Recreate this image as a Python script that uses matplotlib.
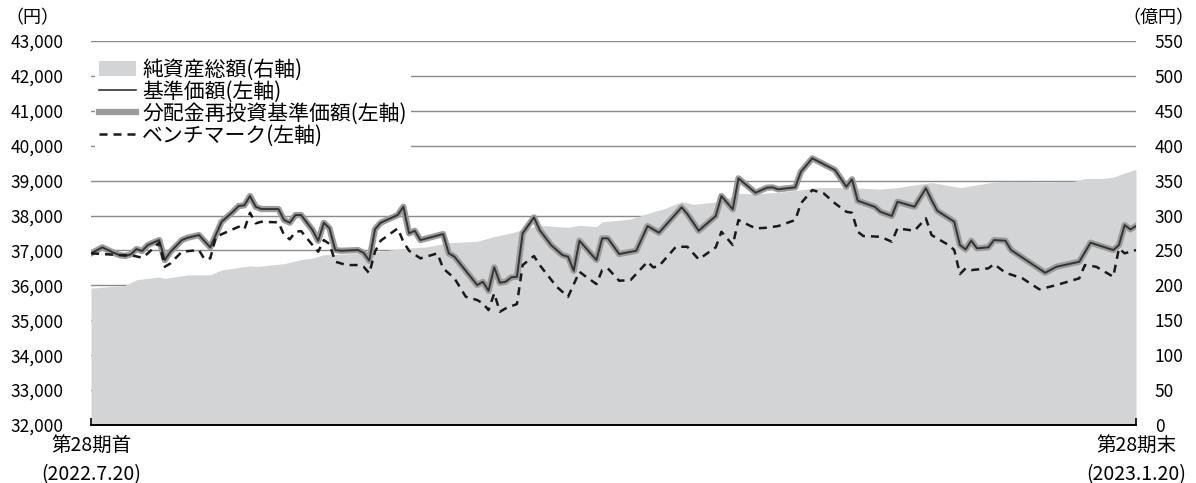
import matplotlib
matplotlib.use('Agg')
import matplotlib.pyplot as plt
from matplotlib.patches import Patch
from matplotlib.lines import Line2D
import pandas as pd

plt.rcParams['font.family'] = ['Noto Sans CJK JP', 'DejaVu Sans']

# period: 第28期 (2022.7.20 - 2023.1.20), x given as days since period start
start = pd.Timestamp('2022-07-20')
end = pd.Timestamp('2023-01-20')

# 基準価額 (円) -- same values for 分配金再投資基準価額 (no distribution)
nav = [(0, 36917), (2, 37089), (4, 36934), (5, 36868), (6, 36840), (7, 36888),
       (8, 37040), (9, 36983), (10, 37155), (12, 37298), (13, 36725), (14, 36963),
       (16, 37298), (17, 37364), (19, 37441), (21, 37089), (23, 37822), (25, 38109),
       (26, 38272), (27, 38292), (28, 38559), (29, 38252), (30, 38186), (33, 38186),
       (34, 37871), (35, 37794), (36, 38014), (37, 38014), (39, 37585), (40, 37278),
       (41, 37794), (42, 37633), (43, 37012), (44, 36991), (47, 37012), (48, 36935),
       (49, 36705), (50, 37605), (51, 37794), (54, 38014), (55, 38252), (56, 37490),
       (57, 37565), (58, 37298), (62, 37470), (63, 36917), (64, 36820), (68, 36009),
       (69, 36103), (70, 35845), (71, 36516), (72, 36075), (73, 36103), (74, 36229),
       (75, 36247), (76, 37490), (78, 37948), (79, 37585), (81, 37155), (83, 36868),
       (84, 36820), (85, 36418), (86, 37279), (89, 36725), (90, 37347), (91, 37347),
       (93, 36897), (96, 36991), (98, 37699), (100, 37507), (104, 38235), (105, 38043),
       (107, 37565), (110, 37986), (111, 38559), (113, 38178), (114, 39066), (117, 38653),
       (119, 38797), (120, 38807), (121, 38751), (124, 38808), (125, 39255), (127, 39639),
       (131, 39304), (133, 38825), (134, 39037), (135, 38424), (138, 38250), (139, 38107),
       (141, 37986), (142, 38395), (145, 38252), (147, 38779), (148, 38444), (149, 38138),
       (152, 37822), (153, 37155), (154, 37031), (155, 37279), (156, 37060), (158, 37089),
       (159, 37298), (161, 37279), (162, 37012), (168, 36361), (170, 36533), (174, 36676),
       (176, 37221), (180, 37012), (181, 37155), (182, 37728), (183, 37603), (184, 37699)]

# ベンチマーク (円)
bench = [(0, 36917), (5, 36868), (7, 36868), (9, 36791), (10, 36917), (12, 37222),
         (13, 36533), (14, 36631), (16, 36963), (19, 37012), (20, 36745), (21, 36774),
         (22, 37393), (24, 37536), (26, 37679), (27, 37603), (28, 38080), (29, 37777),
         (30, 37822), (33, 37805), (34, 37441), (35, 37318), (36, 37536), (37, 37555),
         (39, 37155), (40, 36963), (41, 37298), (42, 37184), (43, 36677), (45, 36582),
         (47, 36582), (48, 36534), (49, 36344), (50, 36963), (51, 37279), (54, 37632),
         (55, 37249), (56, 36991), (58, 36774), (61, 36917), (62, 36487), (64, 36201),
         (66, 35673), (68, 35579), (69, 35484), (70, 35292), (71, 35771), (72, 35244),
         (73, 35340), (75, 35465), (76, 36582), (78, 36840), (79, 36582), (82, 35960),
         (84, 35673), (86, 36390), (87, 36267), (89, 36037), (90, 36438), (91, 36487),
         (93, 36132), (95, 36152), (98, 36677), (99, 36515), (100, 36553), (103, 37106),
         (105, 37106), (107, 36745), (110, 37088), (111, 37536), (112, 37346), (113, 37155),
         (114, 37871), (117, 37632), (119, 37651), (121, 37699), (124, 37871), (125, 38350),
         (127, 38731), (129, 38636), (131, 38350), (133, 38108), (134, 38080), (135, 37536),
         (136, 37413), (139, 37393), (141, 37250), (142, 37632), (145, 37565), (147, 37920),
         (148, 37441), (151, 37155), (152, 37012), (153, 36324), (154, 36487), (155, 36438),
         (158, 36487), (159, 36610), (161, 36362), (164, 36201), (167, 35885), (170, 36009),
         (174, 36201), (175, 36582), (177, 36533), (180, 36247), (181, 37060), (182, 36917),
         (184, 37012)]

# 純資産総額 (億円)
assets = [(0, 196), (6, 200), (8, 208), (12, 212), (13, 210), (17, 215), (21, 215),
          (23, 222), (28, 228), (29, 227), (34, 231), (37, 237), (39, 239), (41, 244),
          (45, 245), (50, 248), (55, 253), (59, 255), (63, 261), (68, 263), (71, 270),
          (74, 275), (76, 280), (79, 286), (84, 283), (86, 286), (89, 284), (90, 291),
          (95, 295), (98, 303), (101, 310), (104, 320), (106, 316), (111, 320), (114, 332),
          (117, 331), (122, 334), (125, 337), (128, 340), (133, 340), (139, 338), (142, 340),
          (145, 344), (148, 347), (149, 346), (153, 340), (159, 348), (162, 349), (168, 348),
          (173, 349), (175, 353), (178, 353), (180, 355), (182, 361), (184, 366)]

left_ticks = list(range(32000, 43001, 1000))
right_ticks = list(range(0, 551, 50))
legend_labels = ['純資産総額(右軸)', '基準価額(左軸)', '分配金再投資基準価額(左軸)', 'ベンチマーク(左軸)']
period_labels = ['第28期首\n(2022.7.20)', '第28期末\n(2023.1.20)']


def to_xy(pairs):
    d = pd.to_timedelta([p[0] for p in pairs], unit='D') + start
    return d, [p[1] for p in pairs]


area_c = '#d3d4d6'
grid_c = '#8a8a8a'

fig = plt.figure(figsize=(11.96, 4.83), dpi=100)
ax = fig.add_axes([91 / 1196, 1 - 425 / 483, 1045 / 1196, 384 / 483])
ax_r = ax.twinx()
ax.set_zorder(ax_r.get_zorder() + 1)
ax.patch.set_visible(False)

# net assets area (right axis), grid sits below it
x, y = to_xy(assets)
ax_r.fill_between(x, 0, y, color=area_c, lw=0, zorder=2)
ax_r.set_ylim(0, 550)
ax_r.set_yticks(right_ticks)
ax_r.yaxis.grid(True, color=grid_c, lw=1)
ax_r.set_axisbelow(True)
ax_r.tick_params(axis='y', length=0, pad=13.5, labelsize=12.5)
for s in ax_r.spines.values():
    s.set_visible(False)

# price lines (left axis)
x, y = to_xy(nav)
ax.plot(x, y, color='#9c9c9c', lw=4.5, solid_joinstyle='round', zorder=3)
ax.plot(x, y, color='#333333', lw=1.4, zorder=4)
x, y = to_xy(bench)
ax.plot(x, y, color='#1a1a1a', lw=1.8, ls=(0, (3.2, 2.4)), zorder=5)

ax.set_xlim(start, end)
ax.set_ylim(32000, 43000)
ax.set_yticks(left_ticks)
ax.set_yticklabels([f'{v:,}' for v in left_ticks])
ax.tick_params(axis='y', length=0, pad=20, labelsize=12.5)
ax.set_xticks([start, end])
ax.set_xticklabels(period_labels, linespacing=1.5)
ax.tick_params(axis='x', direction='in', length=5, width=1.2, color='black', pad=7, labelsize=14)
ax.get_xticklabels()[-1].set_x(pd.Timestamp('2023-01-19'))
for k in ['top', 'left', 'right']:
    ax.spines[k].set_visible(False)
ax.spines['bottom'].set_color('black')
ax.spines['bottom'].set_linewidth(1.4)

handles = [Patch(facecolor=area_c, edgecolor='none'),
           Line2D([], [], color='#333333', lw=1.2),
           Line2D([], [], color='#9c9c9c', lw=4.5),
           Line2D([], [], color='#1a1a1a', lw=1.8, ls=(0, (3.2, 2.4)))]
leg = ax.legend(handles, legend_labels, loc='upper left', bbox_to_anchor=(0.004, 0.965),
                borderaxespad=0, frameon=True, fancybox=False, facecolor='white',
                edgecolor='none', framealpha=1, fontsize=15, handlelength=1.75,
                handleheight=0.7, handletextpad=0.3, labelspacing=0.0, borderpad=0.2)

fig.text(32 / 1196, 1 - 18 / 483, '（円）', ha='center', va='center', fontsize=13)
fig.text(1158 / 1196, 1 - 18 / 483, '（億円）', ha='center', va='center', fontsize=13)

fig.savefig('out.png', dpi=100)
